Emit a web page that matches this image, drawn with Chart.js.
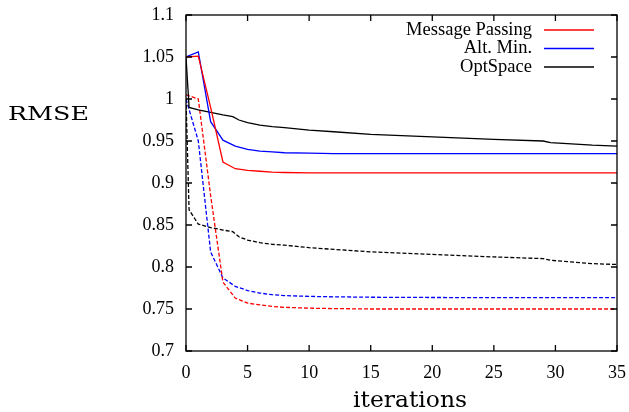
<!DOCTYPE html>
<html>
<head>
<meta charset="utf-8">
<script src="https://cdn.jsdelivr.net/npm/chart.js@4"></script>
<style>
  html, body { margin: 0; padding: 0; background: #fff; }
  canvas { display: block; }
</style>
</head>
<body>
<canvas id="myChart" width="629" height="412"></canvas>
<script>
// iterations where the MP / Alt. Min. curves are read
const iters = [0, 1, 2, 3, 4, 5, 6, 7, 8, 10, 12, 15, 20, 25, 30, 35];
const mpSolid = [1.05, 1.051, 0.99, 0.925, 0.917, 0.915, 0.914, 0.913, 0.9125, 0.912, 0.912, 0.912, 0.912, 0.912, 0.912, 0.912];
const mpDashed = [1.005, 1.0, 0.885, 0.782, 0.763, 0.757, 0.755, 0.753, 0.752, 0.751, 0.7505, 0.750, 0.750, 0.750, 0.750, 0.750];
const amSolid = [1.05, 1.056, 0.973, 0.951, 0.944, 0.940, 0.938, 0.937, 0.936, 0.9355, 0.935, 0.935, 0.935, 0.935, 0.935, 0.935];
const amDashed = [1.0, 0.95, 0.818, 0.787, 0.777, 0.772, 0.769, 0.767, 0.766, 0.765, 0.7645, 0.764, 0.7637, 0.7635, 0.7635, 0.7635];

// OptSpace is sampled at its own iteration points
const osIters = [0, 0.25, 1, 2, 3, 3.8, 4.3, 5, 6, 7, 8, 10, 12, 15, 20, 25, 29, 29.6, 33, 35];
const osSolid = [1.05, 0.99, 0.987, 0.984, 0.981, 0.979, 0.975, 0.972, 0.969, 0.967, 0.966, 0.963, 0.961, 0.958, 0.955, 0.952, 0.950, 0.948, 0.945, 0.944];
const osDashed = [1.0, 0.868, 0.851, 0.847, 0.844, 0.842, 0.836, 0.832, 0.829, 0.827, 0.826, 0.823, 0.821, 0.818, 0.815, 0.812, 0.810, 0.808, 0.804, 0.803];

const seriesNames = ['Message Passing', 'Alt. Min.', 'OptSpace'];
const xTicks = [0, 5, 10, 15, 20, 25, 30, 35];
const yTicks = [0.7, 0.75, 0.8, 0.85, 0.9, 0.95, 1, 1.05, 1.1];
const yTickLabels = ['0.7', '0.75', '0.8', '0.85', '0.9', '0.95', '1', '1.05', '1.1'];
const xTitle = 'iterations';
const yTitle = 'RMSE';

const serif = '"Liberation Serif", "Times New Roman", serif';
const slab = '"DejaVu Serif", serif';

function pts(xs, ys) {
    return xs.map((x, i) => ({ x: x, y: ys[i] }));
}

function line(label, xs, ys, color, dashed) {
    return {
        label: label,
        data: pts(xs, ys),
        borderColor: color,
        backgroundColor: color,
        borderWidth: 1.3,
        borderDash: dashed ? [4, 2] : [],
        pointRadius: 0,
        tension: 0,
        fill: false
    };
}

const datasets = [
    line(seriesNames[0], iters, mpSolid, '#ff0000', false),
    line(seriesNames[1], iters, amSolid, '#0000ff', false),
    line(seriesNames[2], osIters, osSolid, '#000000', false),
    line('', iters, mpDashed, '#ff0000', true),
    line('', iters, amDashed, '#0000ff', true),
    line('', osIters, osDashed, '#000000', true)
];

// gnuplot-like frame: full border, inward ticks, custom legend and titles
const framePlugin = {
    id: 'frame',
    afterDraw(chart) {
        const ctx = chart.ctx;
        const a = chart.chartArea;
        const xs = chart.scales.x, ys = chart.scales.y;
        ctx.save();
        ctx.strokeStyle = '#000';
        ctx.lineWidth = 1.3;
        ctx.setLineDash([]);
        ctx.strokeRect(a.left, a.top, a.right - a.left, a.bottom - a.top);
        const tl = 6;
        ctx.beginPath();
        xTicks.forEach(v => {
            const px = xs.getPixelForValue(v);
            ctx.moveTo(px, a.bottom); ctx.lineTo(px, a.bottom - tl);
            ctx.moveTo(px, a.top); ctx.lineTo(px, a.top + tl);
        });
        yTicks.forEach(v => {
            const py = ys.getPixelForValue(v);
            ctx.moveTo(a.left, py); ctx.lineTo(a.left + tl, py);
            ctx.moveTo(a.right, py); ctx.lineTo(a.right - tl, py);
        });
        ctx.stroke();

        // legend (text right-aligned, sample line after it)
        ctx.font = '18.5px ' + serif;
        ctx.textAlign = 'right';
        ctx.textBaseline = 'middle';
        ctx.fillStyle = '#000';
        const rows = [30, 48.5, 67];
        for (let i = 0; i < 3; i++) {
            const ds = chart.data.datasets[i];
            ctx.fillText(ds.label, 532, rows[i]);
            ctx.strokeStyle = ds.borderColor;
            ctx.lineWidth = 1.3;
            ctx.beginPath();
            ctx.moveTo(544, rows[i]);
            ctx.lineTo(594, rows[i]);
            ctx.stroke();
        }

        // axis titles
        ctx.fillStyle = '#000';
        ctx.textAlign = 'left';
        ctx.textBaseline = 'alphabetic';
        ctx.font = '19px ' + slab;
        let w = ctx.measureText(yTitle).width;
        ctx.save();
        ctx.translate(8, 119.5);
        ctx.scale(81 / w, 1);
        ctx.fillText(yTitle, 0, 0);
        ctx.restore();

        ctx.font = '22px ' + slab;
        w = ctx.measureText(xTitle).width;
        ctx.save();
        ctx.translate(353, 407);
        ctx.scale(114 / w, 1);
        ctx.fillText(xTitle, 0, 0);
        ctx.restore();
        ctx.restore();
    }
};

const config = {
    type: 'line',
    data: { datasets: datasets },
    options: {
        responsive: false,
        animation: false,
        devicePixelRatio: 1,
        layout: { padding: { top: 15, right: 12, left: 0, bottom: 0 } },
        plugins: {
            legend: { display: false },
            tooltip: { enabled: false }
        },
        scales: {
            x: {
                type: 'linear',
                min: 0,
                max: 35,
                afterBuildTicks: s => { s.ticks = xTicks.map(v => ({ value: v })); },
                afterFit: s => {
                    s.height = 61;
                    s.paddingLeft = 0;
                    s.paddingRight = 0;
                },
                grid: { display: false, drawTicks: false },
                border: { display: false },
                ticks: {
                    padding: 11,
                    color: '#000',
                    font: { family: serif, size: 18 },
                    maxRotation: 0,
                    callback: v => String(v)
                }
            },
            y: {
                type: 'linear',
                min: 0.7,
                max: 1.1,
                afterBuildTicks: s => { s.ticks = yTicks.map(v => ({ value: v })); },
                afterFit: s => {
                    s.width = 186;
                    s.paddingTop = 0;
                    s.paddingBottom = 0;
                },
                grid: { display: false, drawTicks: false },
                border: { display: false },
                ticks: {
                    padding: 12,
                    color: '#000',
                    font: { family: serif, size: 18 },
                    callback: (v, i) => yTickLabels[i]
                }
            }
        }
    },
    plugins: [framePlugin]
};

const myChart = new Chart(document.getElementById('myChart'), config);
</script>
</body>
</html>
